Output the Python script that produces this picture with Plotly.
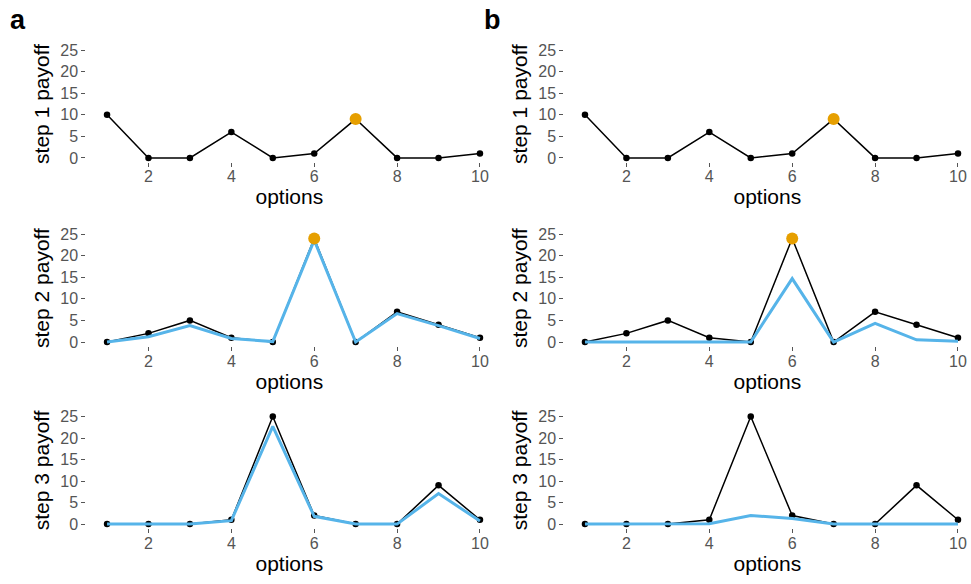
import plotly.graph_objects as go

options = [1, 2, 3, 4, 5, 6, 7, 8, 9, 10]

step1_payoff = [10, 0, 0, 6, 0, 1, 9, 0, 0, 1]
step2_payoff = [0, 2, 5, 1, 0, 24, 0, 7, 4, 1]
step3_payoff = [0, 0, 0, 1, 25, 2, 0, 0, 9, 1]

# blue curves (estimated / learned payoffs)
a_step2_est = [0, 1.2, 3.8, 0.8, 0.1, 23.6, 0, 6.6, 3.8, 0.8]
a_step3_est = [0, 0, 0, 0.8, 22.7, 1.8, 0, 0, 7.1, 0.7]
b_step2_est = [0, 0, 0, 0, 0, 14.7, 0, 4.3, 0.5, 0.2]
b_step3_est = [0, 0, 0, 0.1, 2.0, 1.3, 0, 0, 0, 0]

# chosen options (orange points)
step1_choice = 7
step2_choice = 6

panel_labels = ["a", "b"]
y_titles = ["step 1 payoff", "step 2 payoff", "step 3 payoff"]
x_title = "options"
x_ticks = [2, 4, 6, 8, 10]
y_ticks = [0, 5, 10, 15, 20, 25]

BLACK = "#000000"
BLUE = "#56B4E9"
ORANGE = "#E69F00"
FONT = "Liberation Sans, Arial, sans-serif"

W, H = 971, 584
xr = [0.5, 10.3]
yr = [-1, 26]

# column x-domains (paper fractions) and row y-domains
col_dom = [[0.0889, 0.5071], [0.5811, 0.9994]]
row_dom = [[0.7253, 0.9276], [0.4057, 0.6080], [0.0896, 0.2913]]

black_series = [step1_payoff, step2_payoff, step3_payoff]
blue_series = {
    (1, 0): a_step2_est, (2, 0): a_step3_est,
    (1, 1): b_step2_est, (2, 1): b_step3_est,
}
orange = {0: step1_choice, 1: step2_choice}

fig = go.Figure()
layout = {}
for r in range(3):
    for c in range(2):
        i = r * 2 + c + 1
        xa = "x" if i == 1 else f"x{i}"
        ya = "y" if i == 1 else f"y{i}"
        fig.add_trace(go.Scatter(
            x=options, y=black_series[r], mode="lines+markers",
            line=dict(color=BLACK, width=1.5),
            marker=dict(color=BLACK, size=6.5),
            xaxis=xa, yaxis=ya, showlegend=False, hoverinfo="x+y"))
        if (r, c) in blue_series:
            fig.add_trace(go.Scatter(
                x=options, y=blue_series[(r, c)], mode="lines",
                line=dict(color=BLUE, width=3),
                xaxis=xa, yaxis=ya, showlegend=False))
        if r in orange:
            k = orange[r]
            fig.add_trace(go.Scatter(
                x=[k], y=[black_series[r][k - 1]], mode="markers",
                marker=dict(color=ORANGE, size=12),
                xaxis=xa, yaxis=ya, showlegend=False))
        xname = "xaxis" if i == 1 else f"xaxis{i}"
        yname = "yaxis" if i == 1 else f"yaxis{i}"
        layout[xname] = dict(
            domain=col_dom[c], range=xr, anchor=ya,
            tickvals=x_ticks, ticks="outside", ticklen=4, tickwidth=1,
            ticklabelstandoff=-4,
            tickcolor="#555555", showgrid=False, zeroline=False, showline=False,
            tickfont=dict(size=16, color="#555555", family=FONT),
            title=dict(text=x_title, font=dict(size=21, color="#000000", family=FONT),
                       standoff=2),
            fixedrange=True)
        layout[yname] = dict(
            domain=row_dom[r], range=yr, anchor=xa,
            tickvals=y_ticks, ticks="outside", ticklen=4, tickwidth=1,
            tickcolor="#555555", showgrid=False, zeroline=False, showline=False,
            tickfont=dict(size=16, color="#555555", family=FONT),
            title=dict(text=y_titles[r], font=dict(size=21, color="#000000", family=FONT),
                       standoff=4),
            fixedrange=True)

annotations = []
for c, lab in enumerate(panel_labels):
    annotations.append(dict(
        text=f"<b>{lab}</b>", x=[18, 492][c] / W, y=1 - 16 / H,
        xref="paper", yref="paper", xanchor="center", yanchor="middle",
        showarrow=False, font=dict(size=27, color="#000000", family=FONT)))

fig.update_layout(
    width=W, height=H,
    margin=dict(l=0, r=0, t=0, b=0),
    paper_bgcolor="white", plot_bgcolor="white",
    font=dict(family=FONT),
    annotations=annotations,
    **layout)

fig.write_html(
    "out.html",
    config={"displayModeBar": False},
    post_script="document.body.style.margin='0';document.body.style.overflow='hidden';")
